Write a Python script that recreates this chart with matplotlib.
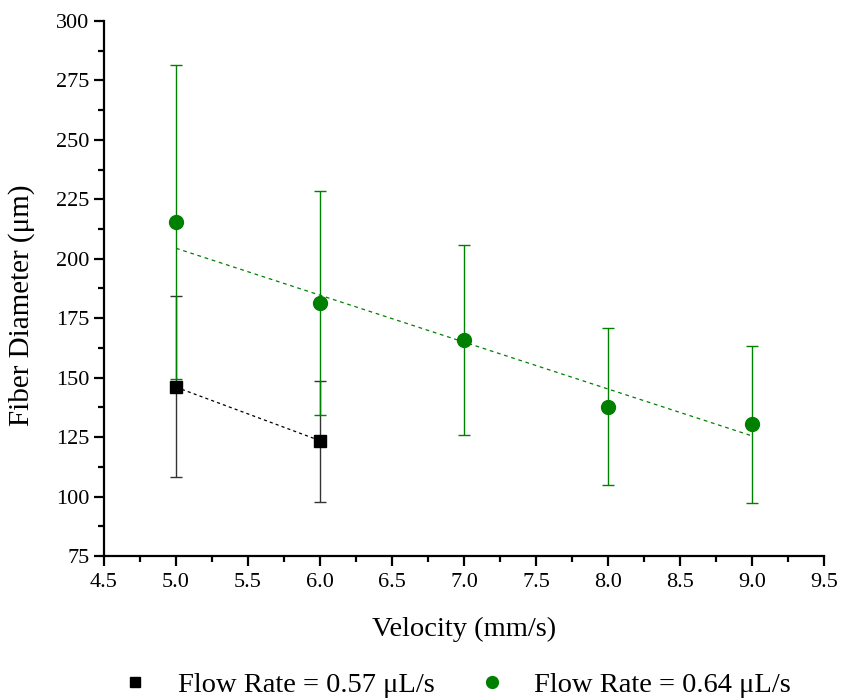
import matplotlib.pyplot as plt
from matplotlib.ticker import MultipleLocator, FormatStrFormatter


# Flow rate 0.57 uL/s
velocity_low = [5.0, 6.0]
diameter_low = [146.2, 123.3]
error_low = [38.0, 25.5]
trend_low = [146.0, 123.5]

# Flow rate 0.64 uL/s
velocity_high = [5.0, 6.0, 7.0, 8.0, 9.0]
diameter_high = [215.3, 181.4, 165.9, 137.8, 130.5]
error_high = [66.0, 47.0, 40.0, 33.0, 33.0]
trend_x_high = [5.0, 9.0]
trend_high = [204.4, 125.5]

labels = ["Flow Rate = 0.57 μL/s", "Flow Rate = 0.64 μL/s"]

GREEN = "#008000"

plt.rcParams["font.family"] = ["Liberation Serif", "DejaVu Serif"]

fig = plt.figure(figsize=(8.41, 6.98), dpi=100)
ax = fig.add_axes([0.1237, 0.2034, 0.8563, 0.7666])

# trend lines
ax.plot(
    velocity_low,
    trend_low,
    color="black",
    linestyle=(0, (2.5, 2.5)),
    linewidth=0.9,
    zorder=2
)
ax.plot(
    trend_x_high,
    trend_high,
    color=GREEN,
    linestyle=(0, (3, 3)),
    linewidth=0.9,
    zorder=2
)

low = ax.errorbar(
    velocity_low,
    diameter_low,
    yerr=error_low,
    fmt="s",
    color="black",
    ecolor="#333333",
    markersize=8.5,
    elinewidth=1,
    capsize=4,
    capthick=1,
    zorder=3
)

high = ax.errorbar(
    velocity_high,
    diameter_high,
    yerr=error_high,
    fmt="o",
    color=GREEN,
    ecolor=GREEN,
    markersize=10,
    elinewidth=1,
    capsize=4,
    capthick=1,
    zorder=4
)

ax.set_xlim(4.5, 9.5)
ax.set_ylim(75, 300)

ax.xaxis.set_major_locator(MultipleLocator(0.5))
ax.xaxis.set_minor_locator(MultipleLocator(0.25))
ax.xaxis.set_major_formatter(FormatStrFormatter("%.1f"))
ax.yaxis.set_major_locator(MultipleLocator(25))
ax.yaxis.set_minor_locator(MultipleLocator(12.5))

ax.spines["top"].set_visible(False)
ax.spines["right"].set_visible(False)
ax.spines["left"].set_linewidth(1.6)
ax.spines["bottom"].set_linewidth(1.6)

ax.tick_params(which="major", direction="out", length=7.5, width=1.6,
               labelsize=16, pad=3)
ax.tick_params(which="minor", direction="out", length=4, width=1.6)
ax.tick_params(axis="x", which="major", pad=5)

ax.set_xlabel("Velocity (mm/s)", fontsize=20.5)
ax.set_ylabel("Fiber Diameter (μm)", fontsize=21)
ax.xaxis.set_label_coords(0.5, -0.138, transform=ax.transAxes)
ax.yaxis.set_label_coords(-0.114, 0.469, transform=ax.transAxes)
ax.xaxis.label.set_va("center")
ax.yaxis.label.set_va("center")

fig.legend(
    [low[0], high[0]],
    labels,
    loc="center",
    bbox_to_anchor=(0.544, 0.019),
    ncol=2,
    frameon=False,
    fontsize=20.5,
    handlelength=0.8,
    handletextpad=1.1,
    columnspacing=1.6,
    markerscale=0.85,
    borderpad=0
)

fig.savefig("out.png", dpi=100)
plt.close()
